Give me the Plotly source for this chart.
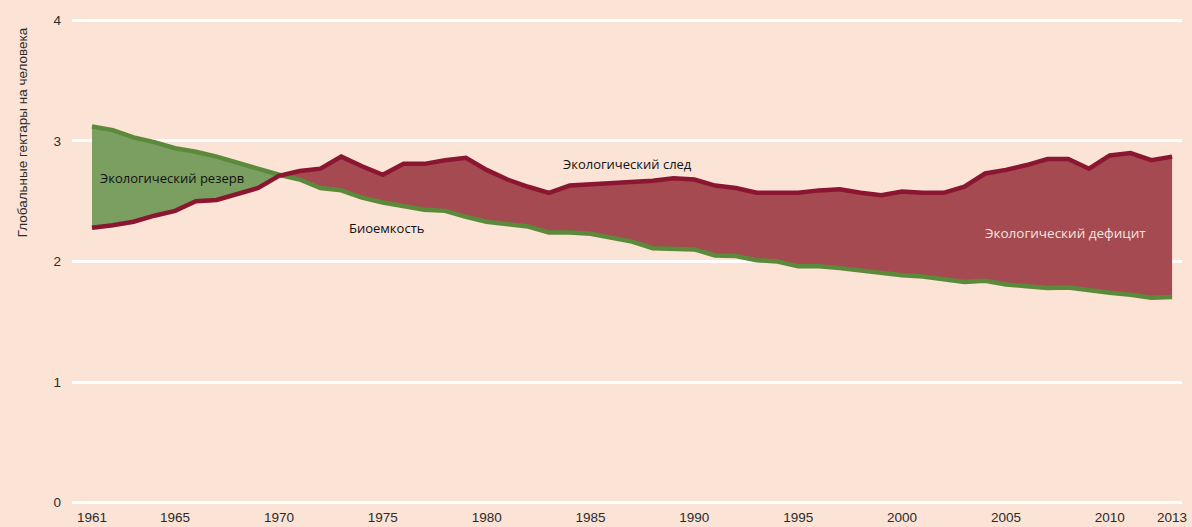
import plotly.graph_objects as go

years = list(range(1961, 2014))
footprint = [2.28, 2.30, 2.33, 2.38, 2.42, 2.50, 2.51, 2.56, 2.61, 2.71,
             2.75, 2.77, 2.87, 2.79, 2.72, 2.81, 2.81, 2.84, 2.86, 2.76,
             2.68, 2.62, 2.57, 2.63, 2.64, 2.65, 2.66, 2.67, 2.69, 2.68,
             2.63, 2.61, 2.57, 2.57, 2.57, 2.59, 2.60, 2.57, 2.55, 2.58,
             2.57, 2.57, 2.62, 2.73, 2.76, 2.80, 2.85, 2.85, 2.77, 2.88,
             2.90, 2.84, 2.87]
biocapacity = [3.12, 3.09, 3.03, 2.99, 2.94, 2.91, 2.87, 2.82, 2.77, 2.72,
               2.68, 2.61, 2.59, 2.53, 2.49, 2.46, 2.43, 2.42, 2.37, 2.33,
               2.31, 2.29, 2.24, 2.24, 2.23, 2.20, 2.165, 2.11, 2.105, 2.10,
               2.05, 2.045, 2.01, 2.00, 1.96, 1.96, 1.945, 1.925, 1.905, 1.885,
               1.875, 1.85, 1.83, 1.84, 1.81, 1.795, 1.78, 1.785, 1.76, 1.74,
               1.725, 1.70, 1.705]
x_ticks = [1961, 1965, 1970, 1975, 1980, 1985, 1990, 1995, 2000, 2005, 2010, 2013]
y_ticks = [0, 1, 2, 3, 4]

BG = "#FBE3D6"
GREEN_FILL = "#7B9E61"
RED_FILL = "#A44A50"
GREEN_LINE = "#5C8A3B"
RED_LINE = "#8B1631"
TXT = "#2b2b2b"


def regions(x, a, b):
    """Split area between a and b into regions by sign of (a-b), with crossings."""
    out = []
    cur_x, cur_a, cur_b = [x[0]], [a[0]], [b[0]]
    cur_sign = (a[0] - b[0]) >= 0
    for i in range(1, len(x)):
        s = (a[i] - b[i]) >= 0
        if s != cur_sign:
            d0 = a[i - 1] - b[i - 1]
            d1 = a[i] - b[i]
            t = d0 / (d0 - d1)
            xc = x[i - 1] + t * (x[i] - x[i - 1])
            yc = a[i - 1] + t * (a[i] - a[i - 1])
            cur_x.append(xc); cur_a.append(yc); cur_b.append(yc)
            out.append((cur_sign, cur_x, cur_a, cur_b))
            cur_x, cur_a, cur_b = [xc], [yc], [yc]
            cur_sign = s
        cur_x.append(x[i]); cur_a.append(a[i]); cur_b.append(b[i])
    out.append((cur_sign, cur_x, cur_a, cur_b))
    return out


fig = go.Figure()

for positive, rx, ra, rb in regions(years, biocapacity, footprint):
    color = GREEN_FILL if positive else RED_FILL
    fig.add_trace(go.Scatter(
        x=rx + rx[::-1], y=ra + rb[::-1], fill="toself", fillcolor=color,
        mode="lines", line=dict(width=0), hoverinfo="skip", showlegend=False))

fig.add_trace(go.Scatter(x=years, y=biocapacity, mode="lines",
                         line=dict(color=GREEN_LINE, width=4.5), showlegend=False))
fig.add_trace(go.Scatter(x=years, y=footprint, mode="lines",
                         line=dict(color=RED_LINE, width=4.5), showlegend=False))

ann_font = dict(family="Open Sans, Noto Sans, sans-serif", size=13, color="#111")
fig.add_annotation(x=1961.29, y=2.69, text="Экологический резерв", showarrow=False,
                   xanchor="left", yanchor="middle", font=ann_font)
fig.add_annotation(x=1973.28, y=2.28, text="Биоемкость", showarrow=False,
                   xanchor="left", yanchor="middle", font=ann_font)
fig.add_annotation(x=1983.58, y=2.81, text="Экологический след", showarrow=False,
                   xanchor="left", yanchor="middle", font=ann_font)
fig.add_annotation(x=2003.9, y=2.24, text="Экологический дефицит", showarrow=False,
                   xanchor="left", yanchor="middle",
                   font=dict(family="Open Sans, Noto Sans, sans-serif", size=13.5, color="#F6E4E0"))

fig.add_annotation(xref="paper", yref="paper", x=-0.045, y=0.985,
                   text="Глобальные гектары на человека", textangle=-90, showarrow=False,
                   xanchor="center", yanchor="top",
                   font=dict(family="Liberation Sans Narrow, Arial Narrow, Liberation Sans, sans-serif",
                             size=13.5, color=TXT))

tick_font = dict(family="Liberation Sans Narrow, Arial Narrow, Liberation Sans, sans-serif",
                 size=13.5, color=TXT)

fig.update_layout(
    width=1192, height=527,
    paper_bgcolor=BG, plot_bgcolor=BG,
    margin=dict(l=72, r=10, t=18, b=22, autoexpand=False),
    xaxis=dict(range=[1960.037, 2013.477], tickvals=x_ticks, ticktext=[str(v) for v in x_ticks],
               showgrid=False, zeroline=False, showline=False, ticks="",
               tickfont=tick_font, ticklabelstandoff=2, automargin=False),
    yaxis=dict(range=[-0.02, 4.02], tickvals=y_ticks, showgrid=True, gridcolor="#FFFFFF",
               gridwidth=3, zeroline=False, showline=False, ticks="",
               tickfont=tick_font, ticklabelstandoff=10, automargin=False),
)

fig.write_html("out.html", config={"displayModeBar": False},
               post_script="document.body.style.margin='0';document.body.style.background='" + BG + "';")
